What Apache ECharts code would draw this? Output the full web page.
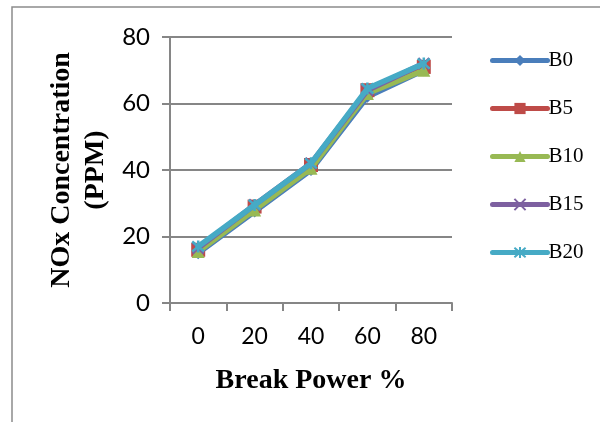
<!DOCTYPE html>
<html>
<head>
<meta charset="utf-8">
<script src="https://cdn.jsdelivr.net/npm/echarts@6/dist/echarts.min.js"></script>
<style>
  html, body { margin: 0; padding: 0; background: #fff; }
  #chart { width: 600px; height: 422px; }
</style>
</head>
<body>
<div id="chart"></div>
<script>
// break power categories (x axis)
const categories = ["0", "20", "40", "60", "80"];
const seriesNames = ["B0", "B5", "B10", "B15", "B20"];
// NOx values in PPM
const b0 = [15, 27.5, 40, 62, 70];
const b5 = [16, 29, 41.5, 64, 71];
const b10 = [15.5, 28, 40.5, 63, 70];
const b15 = [16.5, 29.5, 42, 64, 72];
const b20 = [17, 29.5, 42, 64.5, 72];
const yTicks = [0, 20, 40, 60, 80];

const colors = ["#4a7ebb", "#be4b48", "#98b954", "#7d60a0", "#46aac5"];
const symbols = [
  "diamond",
  "rect",
  "triangle",
  "path://M0,0L10,10M10,0L0,10",
  "path://M0,0L10,10M10,0L0,10M5,-1L5,11"
];
const symbolSizes = [12, 14, 13, 11, 12];
const allData = [b0, b5, b10, b15, b20];

const chart = echarts.init(document.getElementById("chart"));

const series = seriesNames.map((name, i) => {
  const isPath = symbols[i].startsWith("path://");
  return {
    name: name,
    type: "line",
    data: allData[i],
    symbol: symbols[i],
    symbolSize: symbolSizes[i],
    showAllSymbol: true,
    lineStyle: { color: colors[i], width: 5.5, cap: "round", join: "round" },
    itemStyle: isPath
      ? { color: colors[i], borderColor: colors[i], borderWidth: 2.5 }
      : { color: colors[i], borderWidth: 0 },
    emphasis: { disabled: true },
    z: 2 + i
  };
});

chart.setOption({
  animation: false,
  color: colors,
  grid: { left: 170, right: 148, top: 37, bottom: 119, containLabel: false },
  graphic: [
    {
      type: "rect",
      shape: { x: 12, y: 7, width: 700, height: 600 },
      style: { fill: "none", stroke: "#8c8c8c", lineWidth: 1.5 },
      silent: true,
      z: -1
    }
  ],
  legend: {
    orient: "vertical",
    left: 485,
    top: 45,
    itemWidth: 55,
    itemHeight: 14,
    itemGap: 27,
    data: seriesNames,
    lineStyle: { width: 5, cap: "round" },
    textStyle: { fontFamily: "Liberation Serif", fontSize: 21, color: "#000", padding: [0, 0, 0, -4] }
  },
  xAxis: {
    type: "category",
    data: categories,
    boundaryGap: true,
    name: "Break Power %",
    nameLocation: "middle",
    nameGap: 64,
    nameTextStyle: { fontFamily: "Liberation Serif", fontWeight: "bold", fontSize: 28, color: "#000" },
    axisLine: { lineStyle: { color: "#868686", width: 2 } },
    axisTick: { show: true, length: 8, inside: false, alignWithLabel: false, lineStyle: { color: "#868686", width: 2 } },
    axisLabel: { fontFamily: "Lato", fontSize: 23, color: "#000", margin: 22 },
    splitLine: { show: false }
  },
  yAxis: {
    type: "value",
    min: 0,
    max: 80,
    interval: 20,
    name: "NOx Concentration\n(PPM)",
    nameLocation: "middle",
    nameGap: 57,
    nameRotate: 90,
    nameTextStyle: { fontFamily: "Liberation Serif", fontWeight: "bold", fontSize: 28, color: "#000", lineHeight: 34, align: "center" },
    axisLine: { show: true, lineStyle: { color: "#868686", width: 2 } },
    axisTick: { show: true, length: 8, lineStyle: { color: "#868686", width: 2 } },
    axisLabel: {
      fontFamily: "Lato",
      fontSize: 24,
      color: "#000",
      margin: 20,
      formatter: (v) => (yTicks.includes(v) ? String(v) : "")
    },
    splitLine: { show: true, lineStyle: { color: "#868686", width: 2 } }
  },
  series: series
});
</script>
</body>
</html>
